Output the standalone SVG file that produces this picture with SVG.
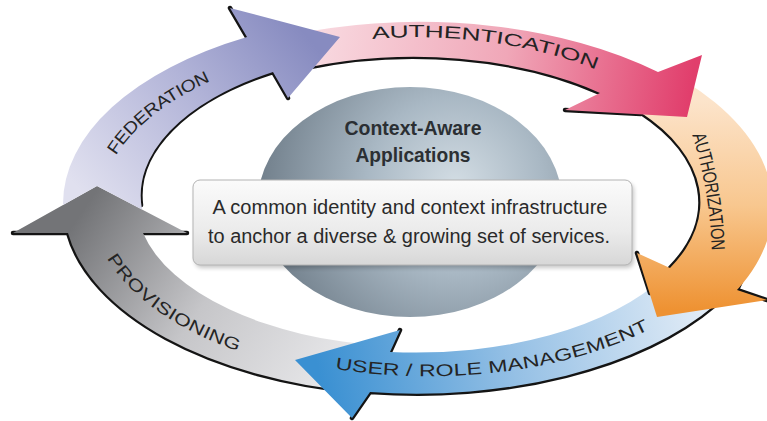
<svg xmlns="http://www.w3.org/2000/svg" width="767" height="421" viewBox="0 0 767 421">
  <style>
    .rim{fill:none;stroke:#141414;stroke-width:4.5;stroke-linecap:round;stroke-linejoin:round}
    .lbl{font-family:"Liberation Sans",Arial,sans-serif;font-size:17px;fill:#242424}
    .title{font-family:"Liberation Sans",Arial,sans-serif;font-size:20.5px;font-weight:bold;fill:#2b2f33}
    .body{font-family:"Liberation Sans",Arial,sans-serif;font-size:20px;fill:#2a2a2a}
  </style>
  <defs>
    <linearGradient id="gFed" gradientUnits="userSpaceOnUse" x1="100" y1="215" x2="310" y2="40">
      <stop offset="0" stop-color="#e0e0ef"/>
      <stop offset="0.55" stop-color="#b2b4d8"/>
      <stop offset="1" stop-color="#878bc0"/>
    </linearGradient>
    <linearGradient id="gAuth" gradientUnits="userSpaceOnUse" x1="320" y1="40" x2="690" y2="95">
      <stop offset="0" stop-color="#f8d8df"/>
      <stop offset="0.5" stop-color="#f0a7b8"/>
      <stop offset="1" stop-color="#e13e6c"/>
    </linearGradient>
    <linearGradient id="gAuthz" gradientUnits="userSpaceOnUse" x1="700" y1="100" x2="700" y2="310">
      <stop offset="0" stop-color="#fce4cb"/>
      <stop offset="0.5" stop-color="#f8c78f"/>
      <stop offset="1" stop-color="#ee9232"/>
    </linearGradient>
    <linearGradient id="gUser" gradientUnits="userSpaceOnUse" x1="700" y1="310" x2="320" y2="380">
      <stop offset="0" stop-color="#e0ebf6"/>
      <stop offset="0.5" stop-color="#95c0e5"/>
      <stop offset="1" stop-color="#3a90d2"/>
    </linearGradient>
    <linearGradient id="gProv" gradientUnits="userSpaceOnUse" x1="370" y1="390" x2="90" y2="200">
      <stop offset="0" stop-color="#efeff1"/>
      <stop offset="0.55" stop-color="#c6c6c9"/>
      <stop offset="1" stop-color="#737477"/>
    </linearGradient>
    <radialGradient id="gHub" gradientUnits="userSpaceOnUse" cx="455" cy="185" r="195">
      <stop offset="0" stop-color="#d3dde4"/>
      <stop offset="0.45" stop-color="#a9b8c4"/>
      <stop offset="1" stop-color="#72808c"/>
    </radialGradient>
    <linearGradient id="gBox" x1="0" y1="0" x2="0" y2="1">
      <stop offset="0" stop-color="#fbfbfb"/>
      <stop offset="0.6" stop-color="#ebebeb"/>
      <stop offset="1" stop-color="#d7d7d7"/>
    </linearGradient>
    <filter id="soft" x="-10%" y="-20%" width="120%" height="150%">
      <feGaussianBlur stdDeviation="2"/>
    </filter>
    <!-- baselines for the ring labels -->
    <path id="pFed" d="M 111,152 A 322,171 0 0 1 212,74"/>
    <path id="pAuth" d="M 372,33 A 310,173 0 0 1 603,66"/>
    <path id="pAuthz" d="M 699,133 Q 717,190 719,254"/>
    <path id="pUser" d="M 336,363 A 310,160 0 0 0 654,320"/>
    <path id="pProv" d="M 112,255 A 318,168 0 0 0 247,348"/>
  </defs>

  <rect width="767" height="421" fill="#ffffff"/>

  <!-- central hub -->
  <g id="hub">
    <ellipse cx="410" cy="202" rx="152" ry="115" fill="url(#gHub)"/>
    <text class="title" x="413" y="135" text-anchor="middle" textLength="137" lengthAdjust="spacingAndGlyphs">Context-Aware</text>
    <text class="title" x="413" y="162" text-anchor="middle" textLength="115" lengthAdjust="spacingAndGlyphs">Applications</text>
  </g>

  <!-- summary panel -->
  <g id="summary">
    <rect x="195" y="183" width="439" height="85" rx="7" fill="#000" opacity="0.22" filter="url(#soft)"/>
    <rect x="193" y="180" width="439" height="85" rx="7" fill="url(#gBox)" stroke="#b4b4b4" stroke-width="1"/>
    <text class="body" x="410" y="214" text-anchor="middle" textLength="395" lengthAdjust="spacingAndGlyphs">A common identity and context infrastructure</text>
    <text class="body" x="409" y="243" text-anchor="middle" textLength="402" lengthAdjust="spacingAndGlyphs">to anchor a diverse &amp; growing set of services.</text>
  </g>

  <!-- ring of process arrows (each head overlaps the next tail) -->
  <g id="connectors">
    <g id="provisioning">
      <path class="rim" d="M 360,392 A 353,190 0 0 1 68,233 M 13,233 L 68,233 M 143,233 L 187,233"/>
      <path fill="url(#gProv)" d="M 360,392 A 353,190 0 0 1 68,233 L 13,233 L 97,186 L 187,233 L 143,233 A 283,146 0 0 0 385,346 Z"/>
      <text class="lbl" dominant-baseline="central"><textPath href="#pProv" textLength="160" lengthAdjust="spacingAndGlyphs">PROVISIONING</textPath></text>
    </g>
    <g id="user-role">
      <path class="rim" d="M 715,305 A 353,190 0 0 1 370,392 M 352,418 L 370,392 M 400,330 L 390,352"/>
      <path fill="url(#gUser)" d="M 715,305 A 353,190 0 0 1 370,392 L 352,418 L 295,360 L 400,330 L 390,352 A 283,146 0 0 0 665,276 Z"/>
      <text class="lbl" dominant-baseline="central"><textPath href="#pUser" textLength="318" lengthAdjust="spacingAndGlyphs">USER / ROLE MANAGEMENT</textPath></text>
    </g>
    <g id="authorization">
      <path class="rim" d="M 640,112 A 283,146 0 0 1 670,268 M 637,253 L 650,293 M 748,258 Q 744,276 737,290 L 767,300"/>
      <path fill="url(#gAuthz)" d="M 683,80 A 353,190 0 0 1 737,290 L 767,300 L 657,317 L 637,253 L 670,268 A 283,146 0 0 0 640,112 Z"/>
      <text class="lbl" style="font-size:19px" dominant-baseline="central"><textPath href="#pAuthz" textLength="119" lengthAdjust="spacingAndGlyphs">AUTHORIZATION</textPath></text>
    </g>
    <g id="authentication">
      <path class="rim" d="M 305,68 A 283,146 0 0 1 600,93 M 565,110 L 641,114"/>
      <path fill="url(#gAuth)" d="M 305,32 A 353,190 0 0 1 658,72 L 702,55 L 687,117 L 565,110 L 600,93 A 283,146 0 0 0 305,68 Z"/>
      <text class="lbl" dominant-baseline="central"><textPath href="#pAuth" textLength="230" lengthAdjust="spacingAndGlyphs">AUTHENTICATION</textPath></text>
    </g>
    <g id="federation">
      <path class="rim" d="M 141,205 A 283,146 0 0 1 273,72 L 288,98 M 230,8 L 247,37"/>
      <path fill="url(#gFed)" d="M 97,186 L 63,205 A 353,190 0 0 1 247,37 L 230,8 L 340,37 L 288,98 L 273,72 A 283,146 0 0 0 142,209.5 Z"/>
      <text class="lbl" dominant-baseline="central"><textPath href="#pFed" textLength="125" lengthAdjust="spacingAndGlyphs">FEDERATION</textPath></text>
    </g>
  </g>
</svg>
